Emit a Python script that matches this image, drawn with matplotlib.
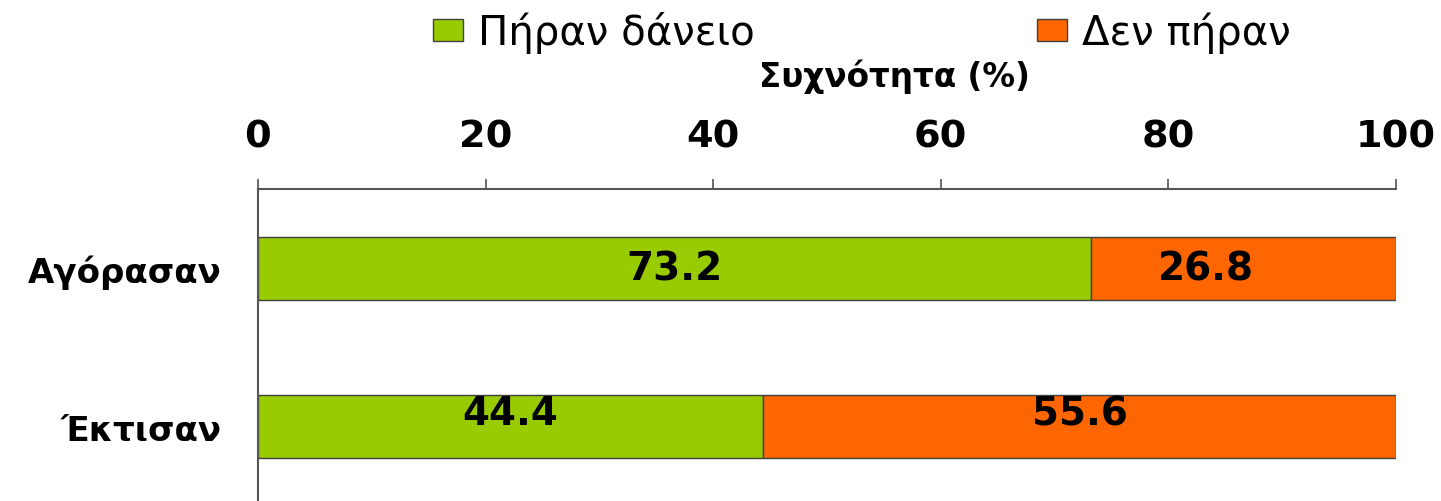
"""Stacked horizontal bars: share of buyers / builders who took a loan."""
import matplotlib
matplotlib.use("Agg")
import matplotlib.pyplot as plt
from matplotlib.patches import Patch

categories = ["Αγόρασαν", "Έκτισαν"]
took_loan = [73.2, 44.4]
no_loan = [26.8, 55.6]
series_names = ["Πήραν δάνειο", "Δεν πήραν"]
xticks = [0, 20, 40, 60, 80, 100]

GREEN = "#99cc00"
ORANGE = "#ff6600"
EDGE = "#404040"
AXIS = "#555555"

plt.rcParams["font.family"] = ["DejaVu Sans"]

W, H = 1441, 502
fig = plt.figure(figsize=(W / 100, H / 100), dpi=100)
# axis line sits at y=190px, plot runs a bit past the bottom edge
ax = fig.add_axes([258 / W, 1 - 507 / H, (1396 - 258) / W, (507 - 190) / H])

y = list(range(len(categories)))
ax.barh(y, took_loan, height=0.4, color=GREEN, edgecolor=EDGE, linewidth=1)
ax.barh(y, no_loan, left=took_loan, height=0.4, color=ORANGE, edgecolor=EDGE, linewidth=1)

ax.set_xlim(0, 100)
ax.set_ylim(1.5, -0.5)
ax.xaxis.tick_top()
ax.set_xticks(xticks)
ax.set_xticklabels([str(t) for t in xticks], fontsize=27.5, fontweight="bold")
ax.tick_params(axis="x", length=7, width=1.2, color=AXIS, pad=18)
ax.set_yticks(y)
ax.set_yticklabels(categories, fontsize=24.5, fontweight="bold")
ax.tick_params(axis="y", length=0, pad=26)
for s in ["right", "bottom"]:
    ax.spines[s].set_visible(False)
for s in ["left", "top"]:
    ax.spines[s].set_color(AXIS)
    ax.spines[s].set_linewidth(1.5)

# value labels, a couple are a little off-centre in the original
nudge_x = [[0, -3.3], [0, 0]]
nudge_y = [0, -0.085]
for i in y:
    segs = [(0, took_loan[i]), (took_loan[i], no_loan[i])]
    for j, (start, val) in enumerate(segs):
        ax.text(start + val / 2 + nudge_x[i][j], i + nudge_y[i], f"{val:.1f}",
                ha="center", va="center", fontsize=28, fontweight="bold")

fig.text(894 / W, 1 - 87 / H, "Συχνότητα (%)", ha="center", va="baseline",
         fontsize=23.5, fontweight="bold")

handles = [Patch(facecolor=GREEN, edgecolor=EDGE), Patch(facecolor=ORANGE, edgecolor=EDGE)]
fig.legend(handles, series_names, ncol=2, loc="upper left",
           bbox_to_anchor=(433 / W, 1 - 12 / H), frameon=False, fontsize=29,
           handlelength=0.75, handleheight=0.47, handletextpad=0.37,
           columnspacing=7.0, borderpad=0, borderaxespad=0)

fig.savefig("out.png", dpi=100)
